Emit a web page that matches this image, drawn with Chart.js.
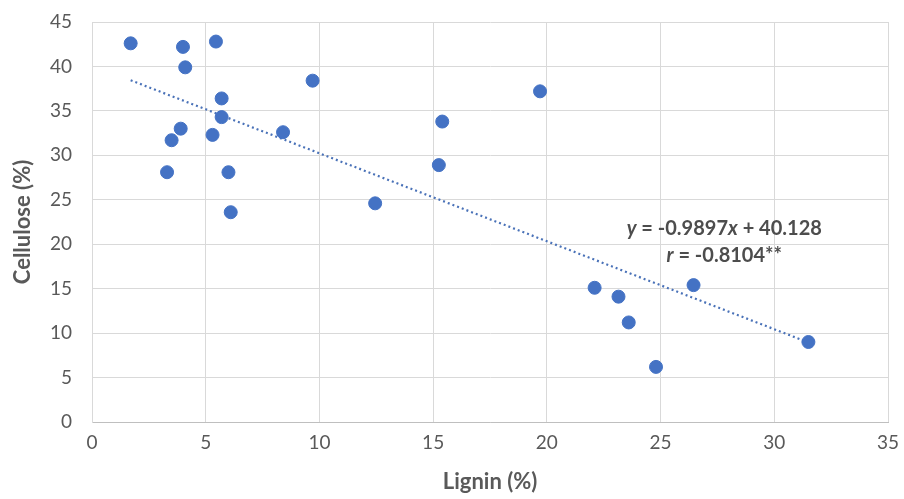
<!DOCTYPE html>
<html><head><meta charset="utf-8">
<script src="https://cdn.jsdelivr.net/npm/chart.js@4/dist/chart.umd.min.js"></script>
<style>html,body{margin:0;padding:0;background:#fff}#wrap{width:904px;height:499px}</style>
</head><body><div id="wrap"><canvas id="c" width="904" height="499"></canvas></div>
<script>
const lignin = [1.7, 4.0, 4.1, 5.45, 5.7, 5.7, 3.9, 3.5, 5.3, 3.3, 6.0, 6.1, 8.4, 9.7, 12.45, 15.4, 15.25, 19.7, 22.1, 23.15, 23.6, 24.8, 26.45, 31.5];
const cellulose = [42.6, 42.2, 39.9, 42.8, 36.4, 34.3, 33.0, 31.7, 32.3, 28.1, 28.1, 23.6, 32.6, 38.4, 24.6, 33.8, 28.9, 37.2, 15.1, 14.1, 11.2, 6.2, 15.4, 9.0];
const slope = -0.9897, intercept = 40.128;
const xTicks = [0,5,10,15,20,25,30,35];
const yTicks = [0,5,10,15,20,25,30,35,40,45];

const points = lignin.map((x,i)=>({x, y: cellulose[i]}));
const xmin = Math.min(...lignin), xmax = Math.max(...lignin);
const trend = [{x:xmin, y:slope*xmin+intercept},{x:xmax, y:slope*xmax+intercept}];

const FONT = "Lato, 'Open Sans', sans-serif";
const grey = '#595959';

const eqPlugin = {
  id:'eq',
  afterDatasetsDraw(chart){
    const {ctx, scales:{x,y}} = chart;
    const cx = x.getPixelForValue(27.8);
    const y1 = y.getPixelForValue(21.8);
    const y2 = y.getPixelForValue(18.75);
    ctx.save();
    ctx.fillStyle = '#4d4d4d';
    ctx.textBaseline = 'middle';
    const drawRich = (parts, yy) => {
      let w = 0;
      parts.forEach(p=>{ctx.font = (p.i?'italic ':'')+'bold 20px '+FONT; w += ctx.measureText(p.t).width;});
      let px = cx - w/2;
      parts.forEach(p=>{ctx.font = (p.i?'italic ':'')+'bold 20px '+FONT; ctx.textAlign='left'; ctx.fillText(p.t, px, yy); px += ctx.measureText(p.t).width;});
    };
    drawRich([{t:'y',i:1},{t:' = -0.9897'},{t:'x',i:1},{t:' + 40.128'}], y1);
    drawRich([{t:'r',i:1},{t:' = -0.8104**'}], y2);
    ctx.restore();
  }
};

new Chart(document.getElementById('c'), {
  type:'scatter',
  data:{datasets:[
    {label:'trend', type:'line', data:trend, borderColor:'#4a72b8', borderWidth:2.2, borderDash:[2,3], pointRadius:0, fill:false, order:2},
    {label:'data', data:points, backgroundColor:'#4472c4', borderColor:'#4472c4', pointRadius:6.5, pointHoverRadius:6.5, order:1}
  ]},
  options:{
    responsive:false, animation:false,
    layout:{padding:{top:22, right:16, left:0, bottom:0}},
    plugins:{legend:{display:false}, tooltip:{enabled:false}},
    scales:{
      x:{type:'linear', min:0, max:35,
        afterBuildTicks:s=>{s.ticks = xTicks.map(v=>({value:v}));},
        afterFit:s=>{s.height = 77; s.paddingLeft = 0; s.paddingRight = 0;},
        grid:{color:'#d9d9d9', drawTicks:false, lineWidth:1},
        border:{color:'#bfbfbf'},
        ticks:{color:grey, font:{family:FONT, size:19}, padding:9},
        title:{display:true, text:'Lignin (%)', color:grey, font:{family:FONT, size:22, weight:'bold'}, padding:{top:14}}
      },
      y:{type:'linear', min:0, max:45,
        afterBuildTicks:s=>{s.ticks = yTicks.map(v=>({value:v}));},
        afterFit:s=>{s.width = 92; s.paddingTop = 0; s.paddingBottom = 0;},
        grid:{color:'#d9d9d9', drawTicks:false, lineWidth:1},
        border:{color:'#d9d9d9'},
        ticks:{color:grey, font:{family:FONT, size:19}, padding:20},
        title:{display:true, text:'Cellulose (%)', color:grey, font:{family:FONT, size:22, weight:'bold'}, padding:{bottom:0, top:10}}
      }
    }
  },
  plugins:[eqPlugin]
});
</script></body></html>
